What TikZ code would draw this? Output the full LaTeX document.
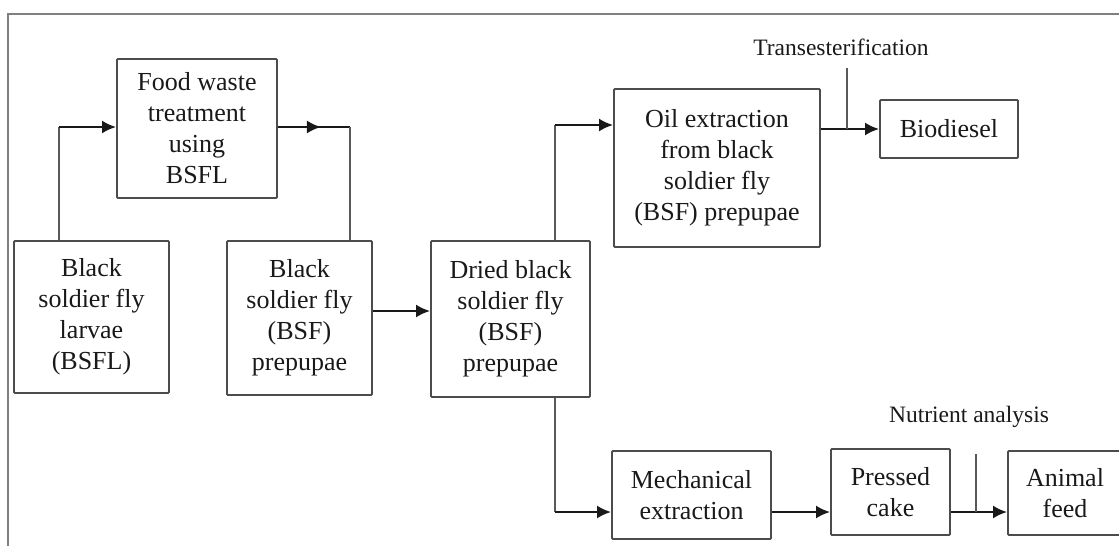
\documentclass[tikz,border=0pt]{standalone}
\usepackage{fontspec}
\setmainfont{Liberation Serif}
\usetikzlibrary{arrows.meta,decorations.markings}

\tikzset{
  caixa/.style={draw=black!70, line width=1.9pt, rounded corners=1pt, align=center,
    inner sep=0pt, text=black!90, font=\fontsize{26}{31}\selectfont},
  seta/.style={line width=2.2pt, black!90, -{Latex[length=14pt,width=13pt]}},
  fio/.style={line width=2.2pt, black!90},
  linha/.style={line width=1.8pt, black!65},
  rotulo/.style={text=black!90, inner sep=0pt, font=\fontsize{23.5}{28}\selectfont},
  meio/.style={postaction={decorate}, decoration={markings,
    mark=at position #1 with {\arrow{Latex[length=14pt,width=13pt]}}}}
}

\begin{document}
\begin{tikzpicture}[x=1pt,y=-1pt]
\useasboundingbox (0,0) rectangle (1119,546);

% Moldura
\draw[black!50, line width=1.2pt] (1125,14) -- (8,14) -- (8,552);

% Caixas
\node[caixa, minimum width=160pt, minimum height=139pt] (food) at (197,128.5) {Food waste\\treatment\\using\\BSFL};
\node[caixa, minimum width=155pt, minimum height=152pt] (bsfl) at (91.5,317) {Black\\soldier fly\\larvae\\(BSFL)};
\node[caixa, minimum width=145pt, minimum height=154pt] (prep) at (299.5,318) {Black\\soldier fly\\(BSF)\\prepupae};
\node[caixa, minimum width=159pt, minimum height=156pt] (dried) at (510.5,319) {Dried black\\soldier fly\\(BSF)\\prepupae};
\node[caixa, minimum width=206pt, minimum height=158pt] (oil) at (717,168) {Oil extraction\\from black\\soldier fly\\(BSF) prepupae};
\node[caixa, minimum width=138pt, minimum height=58pt] (bio) at (949,129) {Biodiesel};
\node[caixa, minimum width=159pt, minimum height=88pt] (mech) at (691.5,495) {Mechanical\\extraction};
\node[caixa, minimum width=119pt, minimum height=86pt] (cake) at (890.5,492) {Pressed\\cake};
\node[caixa, minimum width=114pt, minimum height=84pt] (feed) at (1065,493) {Animal\\feed};

% Rotulos
\node[rotulo] (trans) at (841,47) {Transesterification};
\node[rotulo] (nutri) at (969,417) {Nutrient analysis};

% Pontos de juncao
\coordinate (jbsfl) at (59,127);
\coordinate (jfood) at (350,127);
\coordinate (jprep) at (0,311);
\coordinate (joil) at (555,125);
\coordinate (jmech) at (555,512);
\coordinate (jtrans) at (847,68);
\coordinate (jnutri) at (976,454);

% Setas
\draw[linha] (bsfl.north -| jbsfl) -- (jbsfl);
\draw[seta] (jbsfl) -- (jbsfl -| food.west);
\draw[fio, meio=43pt] (food.east |- jfood) -- (jfood);
\draw[linha] (jfood) -- (prep.north -| jfood);
\draw[seta] (prep.east |- jprep) -- (dried.west |- jprep);
\draw[linha] (dried.north -| joil) -- (joil);
\draw[seta] (joil) -- (joil -| oil.west);
\draw[linha] (dried.south -| jmech) -- (jmech);
\draw[seta] (jmech) -- (jmech -| mech.west);
\draw[seta] (jmech -| mech.east) -- (jmech -| cake.west);
\draw[seta] (jmech -| cake.east) -- (jmech -| feed.west);
\draw[seta] (oil.east |- bio.west) -- (bio.west);
\draw[linha] (jtrans) -- (jtrans |- bio.west);
\draw[linha] (jnutri) -- (jnutri |- jmech);

\end{tikzpicture}
\end{document}
